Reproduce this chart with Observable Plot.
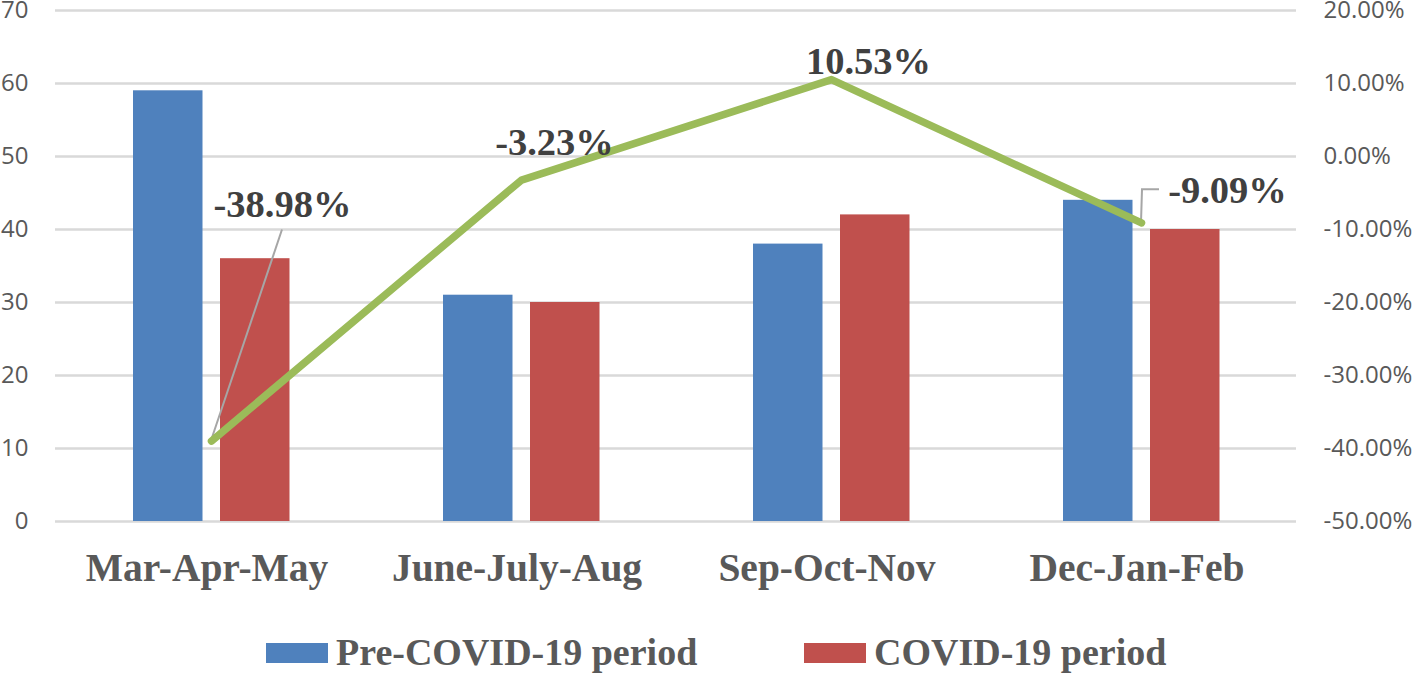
<!DOCTYPE html>
<html><head><meta charset="utf-8">
<script src="https://cdn.jsdelivr.net/npm/d3@7"></script>
<script src="https://cdn.jsdelivr.net/npm/@observablehq/plot@0.6"></script>
<style>
body{margin:0;background:#fff;}
#legend{position:relative;width:1417px;height:64px;font-family:"Liberation Serif";font-weight:bold;font-size:38px;color:#595959;}
.sw{position:absolute;width:62px;height:20px;top:33px;}
.lt{position:absolute;line-height:38px;top:23px;white-space:nowrap;}
</style></head><body>
<div id="chart"></div>
<div id="legend"></div>
<script>
const categories = ["Mar-Apr-May", "June-July-Aug", "Sep-Oct-Nov", "Dec-Jan-Feb"];
const preCovid = [59, 31, 38, 44];
const covid = [36, 30, 42, 40];
const changePct = [-38.98, -3.23, 10.53, -9.09];
const leftTicks = [0, 10, 20, 30, 40, 50, 60, 70];
const rightTicks = [-50, -40, -30, -20, -10, 0, 10, 20];
const seriesNames = ["Pre-COVID-19 period", "COVID-19 period"];

const colors = {pre: "#4F81BD", covid: "#C0504D", line: "#9BBB59", grid: "#d9d9d9", leader: "#a6a6a6"};

// map the right (percent) axis onto the left axis domain
const L0 = leftTicks[0], L1 = leftTicks[leftTicks.length - 1];
const R0 = rightTicks[0], R1 = rightTicks[rightTicks.length - 1];
const pctToY = p => L0 + (p - R0) * (L1 - L0) / (R1 - R0);
const yToPct = v => R0 + (v - L0) * (R1 - R0) / (L1 - L0);

const rows = categories.map((c, i) => ({cat: c, pre: preCovid[i], covid: covid[i], pct: changePct[i]}));

function leaderMark(i, offsets) {
  return (index, scales) => {
    const sx = scales.x, sy = scales.y;
    const x0 = sx(categories[i]) + (sx.bandwidth ? sx.bandwidth() / 2 : 0);
    const y0 = sy(pctToY(changePct[i]));
    const pts = [[x0, y0], ...offsets.map(([dx, dy]) => [x0 + dx, y0 + dy])];
    return d3.create("svg:path").attr("d", d3.line()(pts)).attr("fill", "none")
      .attr("stroke", colors.leader).attr("stroke-width", 2).node();
  };
}

const labelFont = {fontSize: 38.5, fontFamily: "Liberation Serif", fontWeight: "bold", fill: "#404040", lineAnchor: "bottom", textAnchor: "middle"};
const labelText = d => d.pct.toFixed(2) + "%";

const chart = Plot.plot({
  width: 1417, height: 610,
  marginLeft: 55, marginRight: 121, marginTop: 10, marginBottom: 89,
  x: {domain: categories, paddingInner: 0, paddingOuter: 0},
  y: {domain: [L0, L1]},
  style: {fontFamily: "Open Sans", fontSize: "24px", color: "#595959", background: "#fff", overflow: "visible"},
  marks: [
    Plot.gridY(leftTicks, {stroke: colors.grid, strokeOpacity: 1, strokeWidth: 2.5}),
    Plot.barY(rows, {x: "cat", y: "pre", fill: colors.pre, insetLeft: 77, insetRight: 163.5}),
    Plot.barY(rows, {x: "cat", y: "covid", fill: colors.covid, insetLeft: 164, insetRight: 76.5}),
    leaderMark(0, [[71, -211]]),
    leaderMark(3, [[1, -33], [18, -33]]),
    Plot.line(rows, {x: "cat", y: d => pctToY(d.pct), stroke: colors.line, strokeWidth: 7.5, strokeLinecap: "round", strokeLinejoin: "round"}),
    Plot.text([rows[0]], {x: "cat", y: d => pctToY(d.pct), text: labelText, dx: 71, dy: -224, ...labelFont}),
    Plot.text([rows[1]], {x: "cat", y: d => pctToY(d.pct), text: labelText, dx: 33, dy: -25, ...labelFont}),
    Plot.text([rows[2]], {x: "cat", y: d => pctToY(d.pct), text: labelText, dx: 37, dy: -6, ...labelFont}),
    Plot.text([rows[3]], {x: "cat", y: d => pctToY(d.pct), text: labelText, dx: 86, dy: -20, ...labelFont}),
    Plot.axisY(leftTicks, {anchor: "left", tickSize: 0, tickPadding: 27, label: null, fontSize: 24}),
    Plot.axisY(rightTicks.map(pctToY), {anchor: "right", tickSize: 0, tickPadding: 27, label: null, fontSize: 24,
      tickFormat: v => yToPct(v).toFixed(2) + "%"}),
    Plot.axisX({tickSize: 0, tickPadding: 31, label: null, fontSize: 39.5, dx: -4.5, fontFamily: "Liberation Serif", fontWeight: "bold"})
  ]
});
document.getElementById("chart").append(chart);

const legend = document.getElementById("legend");
const legendColors = [colors.pre, colors.covid];
const swLeft = [266, 804], txtLeft = [336, 874];
seriesNames.forEach((n, i) => {
  const s = document.createElement("div");
  s.className = "sw"; s.style.left = swLeft[i] + "px"; s.style.background = legendColors[i];
  const t = document.createElement("div");
  t.className = "lt"; t.style.left = txtLeft[i] + "px"; t.textContent = n;
  legend.append(s, t);
});
</script>
</body></html>
